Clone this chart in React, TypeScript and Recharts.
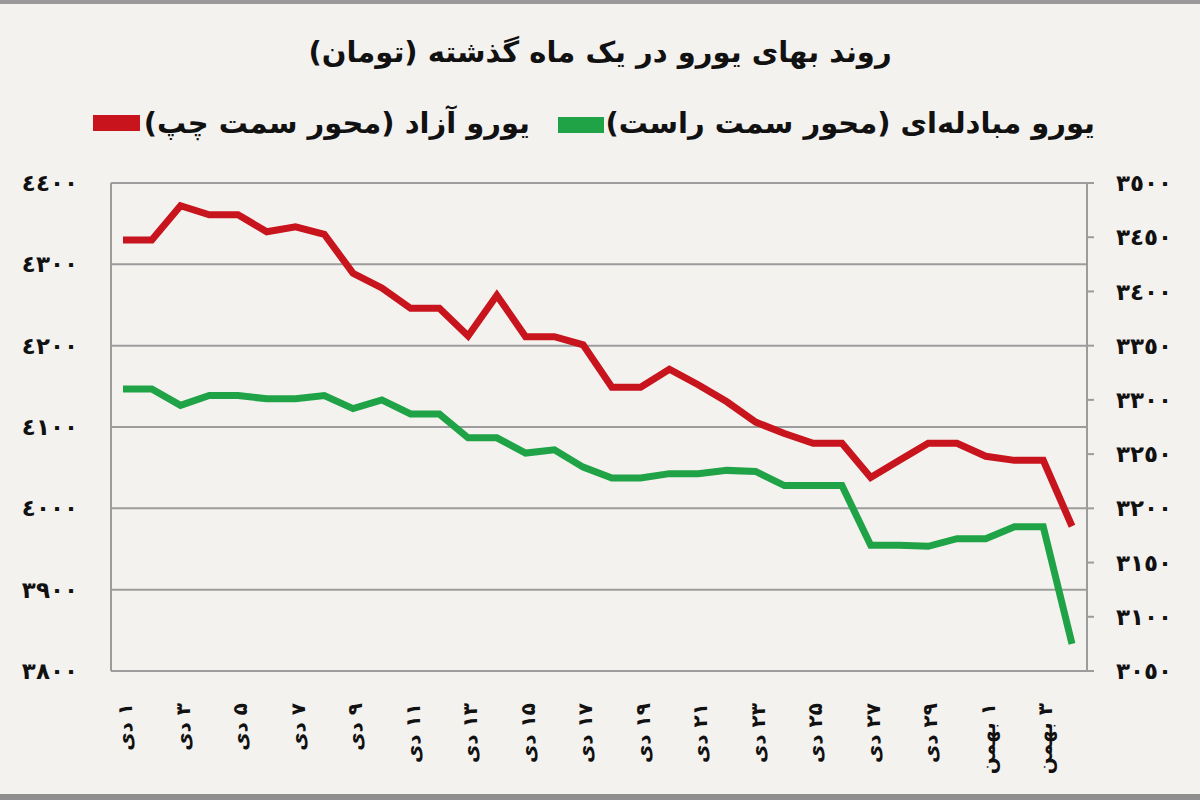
import React from 'react';
import { LineChart, Line, XAxis, YAxis, CartesianGrid } from 'recharts';

const days = [
  '۱ دی', '۲ دی', '۳ دی', '۴ دی', '۵ دی', '۶ دی', '۷ دی', '۸ دی', '۹ دی', '۱۰ دی',
  '۱۱ دی', '۱۲ دی', '۱۳ دی', '۱۴ دی', '۱۵ دی', '۱۶ دی', '۱۷ دی', '۱۸ دی', '۱۹ دی', '۲۰ دی',
  '۲۱ دی', '۲۲ دی', '۲۳ دی', '۲۴ دی', '۲۵ دی', '۲۶ دی', '۲۷ دی', '۲۸ دی', '۲۹ دی', '۳۰ دی',
  '۱ بهمن', '۲ بهمن', '۳ بهمن', '۴ بهمن',
];

// یورو آزاد (محور سمت چپ)
const freeEuro = [
  4330, 4330, 4372, 4361, 4361, 4340, 4346, 4337, 4289, 4271,
  4246, 4246, 4212, 4262, 4211, 4211, 4201, 4149, 4149, 4171,
  4152, 4131, 4106, 4092, 4080, 4080, 4038, 4059, 4080, 4080,
  4064, 4059, 4059, 3978,
];

// یورو مبادله‌ای (محور سمت راست)
const exchangeEuro = [
  3310, 3310, 3295, 3304, 3304, 3301, 3301, 3304, 3292, 3300,
  3287, 3287, 3265, 3265, 3251, 3254, 3238, 3228, 3228, 3232,
  3232, 3235, 3234, 3221, 3221, 3221, 3166, 3166, 3165, 3172,
  3172, 3183, 3183, 3075,
];

const leftTicks = [3800, 3900, 4000, 4100, 4200, 4300, 4400];
const leftTickLabels = ['٣٨٠٠', '٣٩٠٠', '٤٠٠٠', '٤١٠٠', '٤٢٠٠', '٤٣٠٠', '٤٤٠٠'];
const rightTicks = [3050, 3100, 3150, 3200, 3250, 3300, 3350, 3400, 3450, 3500];
const rightTickLabels = ['٣٠٥٠', '٣١٠٠', '٣١٥٠', '٣٢٠٠', '٣٢٥٠', '٣٣٠٠', '٣٣٥٠', '٣٤٠٠', '٣٤٥٠', '٣٥٠٠'];

const title = 'روند بهای یورو در یک ماه گذشته (تومان)';
const freeLabel = 'یورو آزاد (محور سمت چپ)';
const exchangeLabel = 'یورو مبادله‌ای (محور سمت راست)';

const RED = '#c8141c';
const GREEN = '#1fa346';
const GRID = '#9c9c9c';
const BG = '#f4f2ef';
const FONT = '"DejaVu Sans", sans-serif';
const RLM = '\u200F';

const data = days.map((d, i) => ({ day: d, free: freeEuro[i], exchange: exchangeEuro[i] }));

const XTick = (props: any) => {
  const { x, y, payload } = props;
  return (
    <g transform={`translate(${x + 2},${y})`}>
      <text
        transform="rotate(-90)"
        x={0}
        y={0}
        dy="0.36em"
        textAnchor="end"
        fontFamily={FONT}
        fontWeight="bold"
        fontSize={20}
        fill="#111"
      >
        {RLM + payload.value}
      </text>
    </g>
  );
};

const yTickStyle = { fontFamily: FONT, fontWeight: 'bold', fontSize: 23, fill: '#111', letterSpacing: 3 };

export default function App() {
  return (
    <div style={{ position: 'absolute', left: 0, top: 0, width: 1200, height: 800, background: BG, overflow: 'hidden' }}>
      <div style={{ position: 'absolute', left: 0, top: 0, width: 1200, height: 4, background: '#9a9a9a' }} />
      <div style={{ position: 'absolute', left: 0, top: 794, width: 1200, height: 6, background: '#8e8e8e' }} />
      <div
        style={{
          position: 'absolute', left: 0, top: 30, width: 1200, textAlign: 'center', direction: 'rtl',
          fontFamily: FONT, fontWeight: 'bold', fontSize: 29, color: '#111', lineHeight: '44px',
        }}
      >
        {title}
      </div>
      <div
        style={{
          position: 'absolute', right: 105, top: 101, direction: 'rtl', whiteSpace: 'nowrap',
          fontFamily: FONT, fontWeight: 'bold', fontSize: 29, color: '#111', lineHeight: '44px',
        }}
      >
        {exchangeLabel}
      </div>
      <div style={{ position: 'absolute', left: 558, top: 117, width: 46, height: 16, background: GREEN }} />
      <div
        style={{
          position: 'absolute', right: 670, top: 101, direction: 'rtl', whiteSpace: 'nowrap',
          fontFamily: FONT, fontWeight: 'bold', fontSize: 29, color: '#111', lineHeight: '44px',
        }}
      >
        {freeLabel}
      </div>
      <div style={{ position: 'absolute', left: 93, top: 115, width: 47, height: 16, background: RED }} />
      <div style={{ position: 'absolute', left: 0, top: 0 }}>
        <LineChart width={1200} height={800} data={data} margin={{ top: 183, right: 0, bottom: 0, left: 0 }}>
          <CartesianGrid yAxisId="left" vertical={false} horizontal stroke={GRID} strokeWidth={2} />
          <XAxis
            dataKey="day"
            interval={1}
            height={129}
            axisLine={false}
            tickLine={false}
            tickSize={6}
            tickMargin={26}
            padding={{ left: 12, right: 15 }}
            tick={<XTick />}
          />
          <YAxis
            yAxisId="left"
            orientation="left"
            width={111}
            domain={[3800, 4400]}
            ticks={leftTicks}
            interval={0}
            axisLine={{ stroke: GRID, strokeWidth: 2 }}
            tickLine={false}
            tickSize={6}
            tickMargin={27}
            tickFormatter={(v: number) => leftTickLabels[leftTicks.indexOf(v)]}
            tick={yTickStyle}
          />
          <YAxis
            yAxisId="right"
            orientation="right"
            width={113}
            domain={[3050, 3500]}
            ticks={rightTicks}
            interval={0}
            axisLine={{ stroke: GRID, strokeWidth: 2 }}
            tickLine={{ stroke: GRID, strokeWidth: 2 }}
            tickSize={7}
            tickMargin={22}
            tickFormatter={(v: number) => rightTickLabels[rightTicks.indexOf(v)]}
            tick={yTickStyle}
          />
          <Line
            yAxisId="left"
            type="linear"
            dataKey="free"
            stroke={RED}
            strokeWidth={7}
            dot={false}
            activeDot={false}
            isAnimationActive={false}
          />
          <Line
            yAxisId="right"
            type="linear"
            dataKey="exchange"
            stroke={GREEN}
            strokeWidth={7}
            dot={false}
            activeDot={false}
            isAnimationActive={false}
          />
        </LineChart>
      </div>
    </div>
  );
}
